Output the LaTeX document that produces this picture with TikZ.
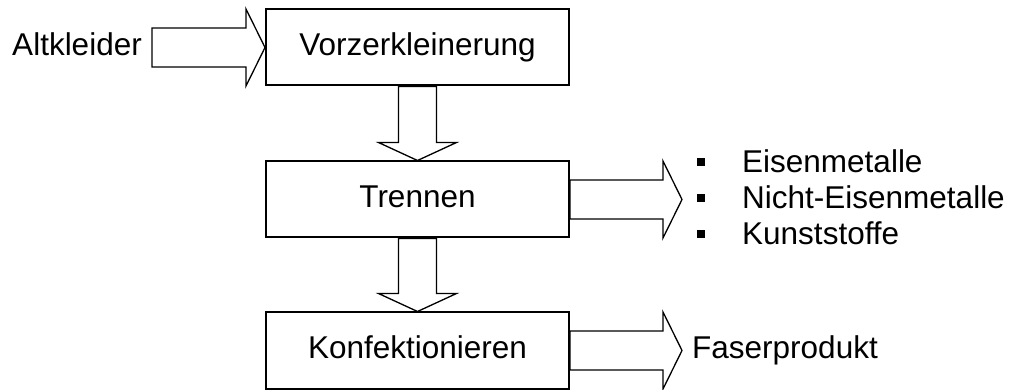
\documentclass[tikz,border=0pt]{standalone}
\usepackage{fontspec}
\setmainfont{Liberation Sans}
\usetikzlibrary{positioning,calc}
\tikzstyle{box} = [draw, rectangle, line width=2pt, minimum width=303pt, minimum height=76pt, text height=23.6pt, text depth=7.9pt, inner sep=0pt]
\tikzstyle{txt} = [inner sep=0pt]
\tikzstyle{fat} = [draw, line width=1.3pt, line join=miter]
\tikzstyle{dot} = [fill=black, rectangle, minimum size=8pt, inner sep=0pt]

\newcommand{\blockright}[2]{%
  \path [fat] ($(#1)+(0,-19.5)$) -- ($(#2)+(-19,-19.5)$) -- ($(#2)+(-19,-38.5)$) -- (#2)
    -- ($(#2)+(-19,38.5)$) -- ($(#2)+(-19,19.5)$) -- ($(#1)+(0,19.5)$) -- cycle;}
\newcommand{\blockdown}[2]{%
  \path [fat] ($(#1)+(-19,0)$) -- ($(#2)+(-19,-18)$) -- ($(#2)+(-39,-18)$) -- (#2)
    -- ($(#2)+(39,-18)$) -- ($(#2)+(19,-18)$) -- ($(#1)+(19,0)$) -- cycle;}

\begin{document}
\begin{tikzpicture}[x=1pt, y=-1pt, font=\fontsize{31.5}{36}\selectfont]
    \useasboundingbox (0,0) rectangle (1010,390);
    \node [box] (vorz) at (417.5,47.5) {Vorzerkleinerung};
    \node [box, below=74pt of vorz] (trenn) {Trennen};
    \node [box, below=73pt of trenn] (konf) {Konfektionieren};

    \coordinate (intail) at ($(vorz.west)+(-113,0)$);
    \node [txt, anchor=base east] (alt) at ($(intail)+(-10,8)$) {Altkleider};
    \blockright{intail}{vorz.west}

    \blockdown{vorz.south}{trenn.north}
    \blockdown{trenn.south}{konf.north}

    \coordinate (outtip) at ($(trenn.east)+(112,0)$);
    \blockright{trenn.east}{outtip}
    \node [txt, anchor=base west] (nfe) at ($(outtip)+(60,9)$) {Nicht-Eisenmetalle};
    \node [txt, anchor=base west] (fe) at ($(nfe.base west)+(0,-36)$) {Eisenmetalle};
    \node [txt, anchor=base west] (kunst) at ($(nfe.base west)+(0,36)$) {Kunststoffe};
    \node [dot] (d1) at ($(fe.base west)+(-41,-10)$) {};
    \node [dot] (d2) at ($(nfe.base west)+(-41,-10)$) {};
    \node [dot] (d3) at ($(kunst.base west)+(-41,-10)$) {};

    \coordinate (endtip) at ($(konf.east)+(112,0)$);
    \blockright{konf.east}{endtip}
    \node [txt, anchor=base west] (faser) at ($(endtip)+(10,8)$) {Faserprodukt};
\end{tikzpicture}
\end{document}
